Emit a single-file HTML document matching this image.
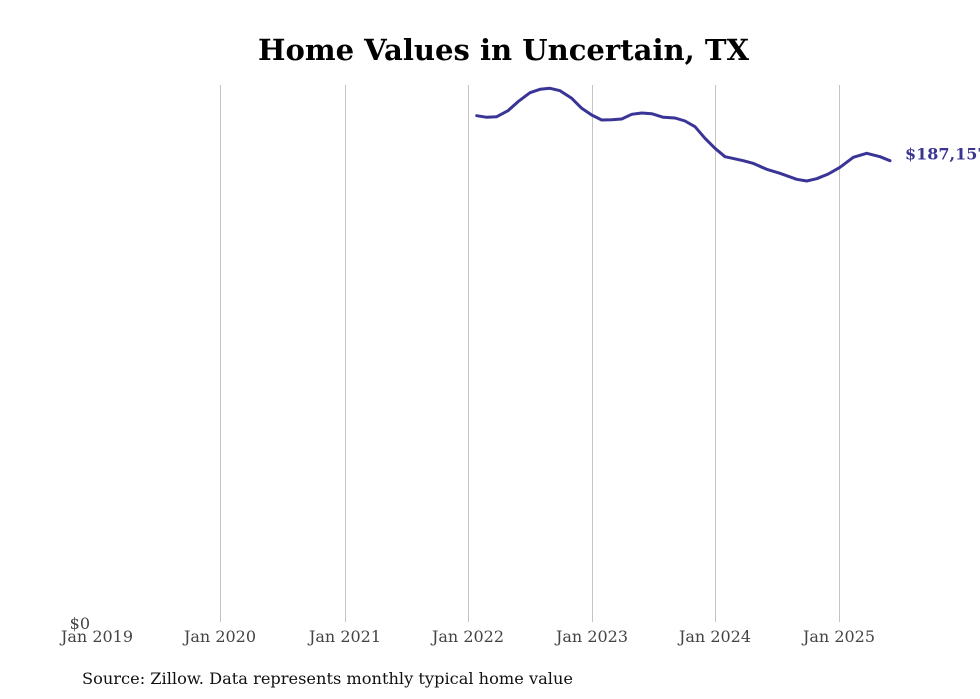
<!DOCTYPE html>
<html>
<head>
<meta charset="utf-8">
<style>
html,body{margin:0;padding:0;background:#fff;}
body{width:980px;height:699px;overflow:hidden;}
svg{display:block;}
text{font-family:"DejaVu Serif","Liberation Serif",serif;}
</style>
</head>
<body>
<svg width="980" height="699" viewBox="0 0 980 699" xmlns="http://www.w3.org/2000/svg">
<rect width="980" height="699" fill="#fff"/>
<text x="503.5" y="60" text-anchor="middle" font-size="29" font-weight="bold" fill="#000" textLength="491" lengthAdjust="spacingAndGlyphs">Home Values in Uncertain, TX</text>
<g stroke="#c4c4c4" stroke-width="1">
<line x1="220.5" y1="85" x2="220.5" y2="622"/>
<line x1="345.5" y1="85" x2="345.5" y2="622"/>
<line x1="468.5" y1="85" x2="468.5" y2="622"/>
<line x1="592.5" y1="85" x2="592.5" y2="622"/>
<line x1="715.5" y1="85" x2="715.5" y2="622"/>
<line x1="839.5" y1="85" x2="839.5" y2="622"/>
</g>
<path fill="none" stroke="#3a3496" stroke-width="3" stroke-linejoin="round" stroke-linecap="round"
d="M476.7,115.7 L486.7,117.3 L496.7,116.7 L508,110.7 L518,101.7 L530,92.7 L540,89.3 L550,88.3 L560,90.7 L571.7,98.3 L581.7,108.3 L591.7,115 L601.7,120 L611.7,119.7 L621.7,119 L631.7,114.3 L641.7,113 L651.7,113.7 L663.3,117.3 L675,118 L685,121 L695,126.7 L705,138.3 L715,148.3 L725,156.7 L743.3,160.7 L753,163.3 L766.7,169.3 L780,173.3 L796.7,179.3 L806.7,181 L816.7,178.7 L828.3,174 L840,167.3 L853.3,157.3 L866.7,153.3 L880,156.7 L890,160.7"/>
<text x="905" y="159.5" font-size="16" font-weight="bold" fill="#3a3591">$187,157</text>
<g font-size="16" fill="#444" text-anchor="middle">
<text x="97" y="642">Jan 2019</text>
<text x="220" y="642">Jan 2020</text>
<text x="345" y="642">Jan 2021</text>
<text x="468" y="642">Jan 2022</text>
<text x="592" y="642">Jan 2023</text>
<text x="715" y="642">Jan 2024</text>
<text x="839" y="642">Jan 2025</text>
</g>
<text x="90" y="629" font-size="16" fill="#444" text-anchor="end">$0</text>
<text x="82" y="684" font-size="16" fill="#111" textLength="491" lengthAdjust="spacingAndGlyphs">Source: Zillow. Data represents monthly typical home value</text>
</svg>
</body>
</html>
